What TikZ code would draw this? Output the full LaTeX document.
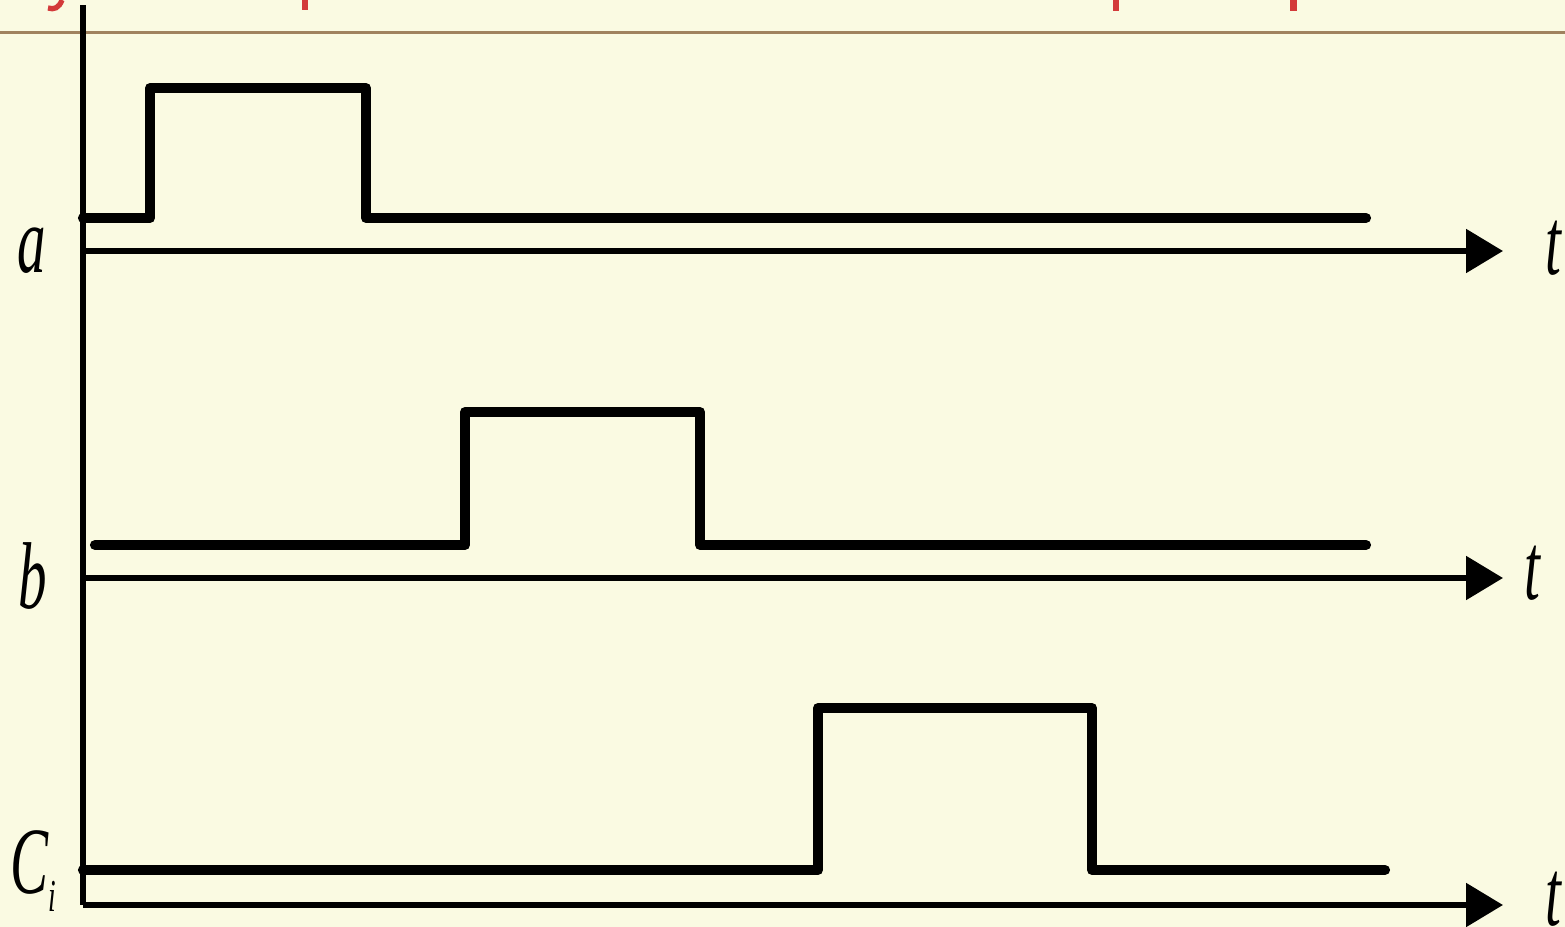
\documentclass[tikz,border=0pt]{standalone}
\usepackage{fontspec}
\setmainfont{Liberation Serif}
\usetikzlibrary{arrows.meta}
\definecolor{paper}{RGB}{250,250,226}
\definecolor{rulebrown}{RGB}{160,130,95}
\definecolor{titlered}{RGB}{211,58,58}
\newcommand\narrow[1]{\scalebox{0.6}[1]{#1}}
\begin{document}
\begin{tikzpicture}[x=0.01cm,y=-0.01cm,>={Triangle[length=10.5pt,width=12.2pt]},
        axis/.style={line width=1.6pt},
        pulse/.style={line width=2.9pt,line cap=round,line join=round},
        lbl/.style={font=\fontsize{27}{30}\selectfont\itshape,inner sep=0pt}]
            \fill[paper] (0,0) rectangle (1565,927);
            \useasboundingbox (0,0) rectangle (1565,927);
            % cut-off title above
            \fill[titlered] (302,0) rectangle (308,10);
            \fill[titlered] (1113,0) rectangle (1119,11);
            \fill[titlered] (1290,0) rectangle (1297,11);
            \draw[titlered,line width=1.5pt] (62,0) .. controls (59,8) and (54,10) .. (48,8);
            \draw[rulebrown,line width=0.6pt] (0,32.5) -- (1565,32.5);
            % axes
            \coordinate (oa) at (83,251);
            \coordinate (ob) at (83,578);
            \coordinate (oc) at (83,905);
            \draw[axis] (83,5) -- (oc);
            \draw[axis,->] (oa) -- (1503,251);
            \draw[axis,->] (ob) -- (1503,578);
            \draw[axis,->] (oc) -- (1503,905);
            % pulses
            \draw[pulse] (83,218) -- (150,218) -- (150,88) -- (366,88) -- (366,218) -- (1366,218);
            \draw[pulse] (95,545) -- (465,545) -- (465,412) -- (700,412) -- (700,545) -- (1366,545);
            \draw[pulse] (83,870) -- (818,870) -- (818,708) -- (1092,708) -- (1092,870) -- (1385,870);
            % labels
            \node[lbl,anchor=base] (la) at (32,272) {\narrow{a}};
            \node[lbl,anchor=base] (lb) at (33,608) {\narrow{b}};
            \node[lbl,anchor=base west] (lc) at (10,893) {\narrow{C\raisebox{-5.4pt}{\fontsize{13}{15}\selectfont i}}};
            \node[lbl,anchor=base] (ta) at (1553,274) {\narrow{t}};
            \node[lbl,anchor=base] (tb) at (1532,599) {\narrow{t}};
            \node[lbl,anchor=base] (tc) at (1553,925) {\narrow{t}};
        \end{tikzpicture}
\end{document}
